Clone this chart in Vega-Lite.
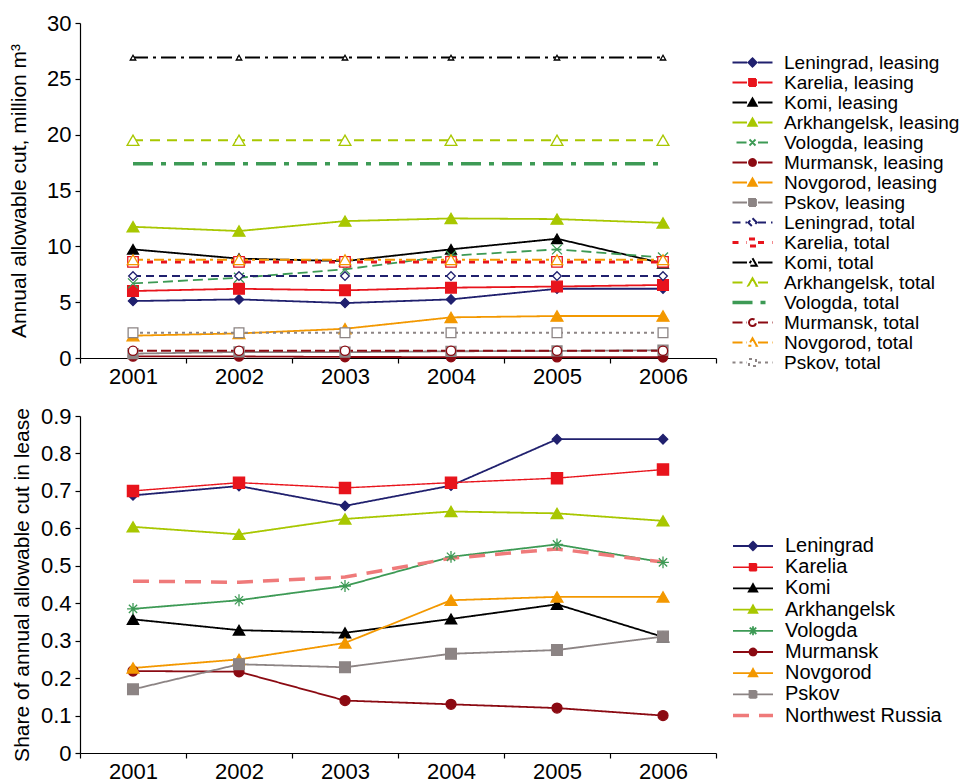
{
  "$schema": "https://vega.github.io/schema/vega-lite/v6.json",
  "padding": {"left": 8, "top": 12, "right": 0, "bottom": 0},
  "spacing": 18,
  "datasets": {
    "cut": [
      {"series": "Leningrad, leasing", "year": "2001", "value": 5.1},
      {"series": "Leningrad, leasing", "year": "2002", "value": 5.25},
      {"series": "Leningrad, leasing", "year": "2003", "value": 4.92},
      {"series": "Leningrad, leasing", "year": "2004", "value": 5.25},
      {"series": "Leningrad, leasing", "year": "2005", "value": 6.2},
      {"series": "Leningrad, leasing", "year": "2006", "value": 6.2},
      {"series": "Karelia, leasing", "year": "2001", "value": 6.0},
      {"series": "Karelia, leasing", "year": "2002", "value": 6.2},
      {"series": "Karelia, leasing", "year": "2003", "value": 6.06},
      {"series": "Karelia, leasing", "year": "2004", "value": 6.3},
      {"series": "Karelia, leasing", "year": "2005", "value": 6.4},
      {"series": "Karelia, leasing", "year": "2006", "value": 6.54},
      {"series": "Komi, leasing", "year": "2001", "value": 9.73},
      {"series": "Komi, leasing", "year": "2002", "value": 8.9},
      {"series": "Komi, leasing", "year": "2003", "value": 8.68},
      {"series": "Komi, leasing", "year": "2004", "value": 9.73},
      {"series": "Komi, leasing", "year": "2005", "value": 10.68},
      {"series": "Komi, leasing", "year": "2006", "value": 8.48},
      {"series": "Arkhangelsk, leasing", "year": "2001", "value": 11.75},
      {"series": "Arkhangelsk, leasing", "year": "2002", "value": 11.37},
      {"series": "Arkhangelsk, leasing", "year": "2003", "value": 12.26},
      {"series": "Arkhangelsk, leasing", "year": "2004", "value": 12.5},
      {"series": "Arkhangelsk, leasing", "year": "2005", "value": 12.44},
      {"series": "Arkhangelsk, leasing", "year": "2006", "value": 12.1},
      {"series": "Vologda, leasing", "year": "2001", "value": 6.68},
      {"series": "Vologda, leasing", "year": "2002", "value": 7.19},
      {"series": "Vologda, leasing", "year": "2003", "value": 7.94},
      {"series": "Vologda, leasing", "year": "2004", "value": 9.16},
      {"series": "Vologda, leasing", "year": "2005", "value": 9.73},
      {"series": "Vologda, leasing", "year": "2006", "value": 9.0},
      {"series": "Murmansk, leasing", "year": "2001", "value": 0.14},
      {"series": "Murmansk, leasing", "year": "2002", "value": 0.14},
      {"series": "Murmansk, leasing", "year": "2003", "value": 0.09},
      {"series": "Murmansk, leasing", "year": "2004", "value": 0.085},
      {"series": "Murmansk, leasing", "year": "2005", "value": 0.08},
      {"series": "Murmansk, leasing", "year": "2006", "value": 0.065},
      {"series": "Novgorod, leasing", "year": "2001", "value": 2.0},
      {"series": "Novgorod, leasing", "year": "2002", "value": 2.2},
      {"series": "Novgorod, leasing", "year": "2003", "value": 2.62},
      {"series": "Novgorod, leasing", "year": "2004", "value": 3.64},
      {"series": "Novgorod, leasing", "year": "2005", "value": 3.76},
      {"series": "Novgorod, leasing", "year": "2006", "value": 3.76},
      {"series": "Pskov, leasing", "year": "2001", "value": 0.39},
      {"series": "Pskov, leasing", "year": "2002", "value": 0.54},
      {"series": "Pskov, leasing", "year": "2003", "value": 0.52},
      {"series": "Pskov, leasing", "year": "2004", "value": 0.6},
      {"series": "Pskov, leasing", "year": "2005", "value": 0.63},
      {"series": "Pskov, leasing", "year": "2006", "value": 0.7},
      {"series": "Leningrad, total", "year": "2001", "value": 7.34},
      {"series": "Leningrad, total", "year": "2002", "value": 7.34},
      {"series": "Leningrad, total", "year": "2003", "value": 7.34},
      {"series": "Leningrad, total", "year": "2004", "value": 7.34},
      {"series": "Leningrad, total", "year": "2005", "value": 7.34},
      {"series": "Leningrad, total", "year": "2006", "value": 7.34},
      {"series": "Karelia, total", "year": "2001", "value": 8.6},
      {"series": "Karelia, total", "year": "2002", "value": 8.6},
      {"series": "Karelia, total", "year": "2003", "value": 8.6},
      {"series": "Karelia, total", "year": "2004", "value": 8.6},
      {"series": "Karelia, total", "year": "2005", "value": 8.6},
      {"series": "Karelia, total", "year": "2006", "value": 8.6},
      {"series": "Komi, total", "year": "2001", "value": 26.9},
      {"series": "Komi, total", "year": "2002", "value": 26.9},
      {"series": "Komi, total", "year": "2003", "value": 26.9},
      {"series": "Komi, total", "year": "2004", "value": 26.9},
      {"series": "Komi, total", "year": "2005", "value": 26.9},
      {"series": "Komi, total", "year": "2006", "value": 26.9},
      {"series": "Arkhangelsk, total", "year": "2001", "value": 19.5},
      {"series": "Arkhangelsk, total", "year": "2002", "value": 19.5},
      {"series": "Arkhangelsk, total", "year": "2003", "value": 19.5},
      {"series": "Arkhangelsk, total", "year": "2004", "value": 19.5},
      {"series": "Arkhangelsk, total", "year": "2005", "value": 19.5},
      {"series": "Arkhangelsk, total", "year": "2006", "value": 19.5},
      {"series": "Vologda, total", "year": "2001", "value": 17.4},
      {"series": "Vologda, total", "year": "2002", "value": 17.4},
      {"series": "Vologda, total", "year": "2003", "value": 17.4},
      {"series": "Vologda, total", "year": "2004", "value": 17.4},
      {"series": "Vologda, total", "year": "2005", "value": 17.4},
      {"series": "Vologda, total", "year": "2006", "value": 17.4},
      {"series": "Murmansk, total", "year": "2001", "value": 0.65},
      {"series": "Murmansk, total", "year": "2002", "value": 0.65},
      {"series": "Murmansk, total", "year": "2003", "value": 0.65},
      {"series": "Murmansk, total", "year": "2004", "value": 0.65},
      {"series": "Murmansk, total", "year": "2005", "value": 0.65},
      {"series": "Murmansk, total", "year": "2006", "value": 0.65},
      {"series": "Novgorod, total", "year": "2001", "value": 8.8},
      {"series": "Novgorod, total", "year": "2002", "value": 8.8},
      {"series": "Novgorod, total", "year": "2003", "value": 8.8},
      {"series": "Novgorod, total", "year": "2004", "value": 8.8},
      {"series": "Novgorod, total", "year": "2005", "value": 8.8},
      {"series": "Novgorod, total", "year": "2006", "value": 8.8},
      {"series": "Pskov, total", "year": "2001", "value": 2.27},
      {"series": "Pskov, total", "year": "2002", "value": 2.27},
      {"series": "Pskov, total", "year": "2003", "value": 2.27},
      {"series": "Pskov, total", "year": "2004", "value": 2.27},
      {"series": "Pskov, total", "year": "2005", "value": 2.27},
      {"series": "Pskov, total", "year": "2006", "value": 2.27}
    ],
    "share": [
      {"region": "Leningrad", "year": "2001", "value": 0.688},
      {"region": "Leningrad", "year": "2002", "value": 0.713},
      {"region": "Leningrad", "year": "2003", "value": 0.66},
      {"region": "Leningrad", "year": "2004", "value": 0.714},
      {"region": "Leningrad", "year": "2005", "value": 0.838},
      {"region": "Leningrad", "year": "2006", "value": 0.838},
      {"region": "Karelia", "year": "2001", "value": 0.7},
      {"region": "Karelia", "year": "2002", "value": 0.722},
      {"region": "Karelia", "year": "2003", "value": 0.708},
      {"region": "Karelia", "year": "2004", "value": 0.722},
      {"region": "Karelia", "year": "2005", "value": 0.734},
      {"region": "Karelia", "year": "2006", "value": 0.757},
      {"region": "Komi", "year": "2001", "value": 0.357},
      {"region": "Komi", "year": "2002", "value": 0.328},
      {"region": "Komi", "year": "2003", "value": 0.321},
      {"region": "Komi", "year": "2004", "value": 0.358},
      {"region": "Komi", "year": "2005", "value": 0.397},
      {"region": "Komi", "year": "2006", "value": 0.31},
      {"region": "Arkhangelsk", "year": "2001", "value": 0.604},
      {"region": "Arkhangelsk", "year": "2002", "value": 0.584},
      {"region": "Arkhangelsk", "year": "2003", "value": 0.625},
      {"region": "Arkhangelsk", "year": "2004", "value": 0.645},
      {"region": "Arkhangelsk", "year": "2005", "value": 0.64},
      {"region": "Arkhangelsk", "year": "2006", "value": 0.62},
      {"region": "Vologda", "year": "2001", "value": 0.385},
      {"region": "Vologda", "year": "2002", "value": 0.408},
      {"region": "Vologda", "year": "2003", "value": 0.446},
      {"region": "Vologda", "year": "2004", "value": 0.524},
      {"region": "Vologda", "year": "2005", "value": 0.557},
      {"region": "Vologda", "year": "2006", "value": 0.509},
      {"region": "Murmansk", "year": "2001", "value": 0.219},
      {"region": "Murmansk", "year": "2002", "value": 0.217},
      {"region": "Murmansk", "year": "2003", "value": 0.14},
      {"region": "Murmansk", "year": "2004", "value": 0.13},
      {"region": "Murmansk", "year": "2005", "value": 0.12},
      {"region": "Murmansk", "year": "2006", "value": 0.1},
      {"region": "Novgorod", "year": "2001", "value": 0.227},
      {"region": "Novgorod", "year": "2002", "value": 0.25},
      {"region": "Novgorod", "year": "2003", "value": 0.294},
      {"region": "Novgorod", "year": "2004", "value": 0.408},
      {"region": "Novgorod", "year": "2005", "value": 0.417},
      {"region": "Novgorod", "year": "2006", "value": 0.417},
      {"region": "Pskov", "year": "2001", "value": 0.17},
      {"region": "Pskov", "year": "2002", "value": 0.237},
      {"region": "Pskov", "year": "2003", "value": 0.229},
      {"region": "Pskov", "year": "2004", "value": 0.265},
      {"region": "Pskov", "year": "2005", "value": 0.275},
      {"region": "Pskov", "year": "2006", "value": 0.311},
      {"region": "Northwest Russia", "year": "2001", "value": 0.459},
      {"region": "Northwest Russia", "year": "2002", "value": 0.456},
      {"region": "Northwest Russia", "year": "2003", "value": 0.47},
      {"region": "Northwest Russia", "year": "2004", "value": 0.52},
      {"region": "Northwest Russia", "year": "2005", "value": 0.545},
      {"region": "Northwest Russia", "year": "2006", "value": 0.51}
    ]
  },
  "vconcat": [
    {
      "width": 636,
      "height": 335,
      "data": {"name": "cut"},
      "encoding": {
        "x": {"field": "year", "type": "ordinal", "scale": {"type": "band", "paddingInner": 0, "paddingOuter": 0},
              "axis": {"title": null, "labelAngle": 0, "tickBand": "extent", "labelPadding": 3}},
        "y": {"field": "value", "type": "quantitative", "scale": {"domain": [0, 30], "nice": false},
              "axis": {"title": "Annual allowable cut, million m³", "values": [0, 5, 10, 15, 20, 25, 30], "titlePadding": 17, "labelPadding": 4}}
      },
      "layer": [
        {
          "mark": {"type": "line", "strokeCap": "butt"},
          "encoding": {
            "color": {
              "field": "series", "type": "nominal",
              "scale": {
                "domain": ["Leningrad, leasing","Karelia, leasing","Komi, leasing","Arkhangelsk, leasing","Vologda, leasing","Murmansk, leasing","Novgorod, leasing","Pskov, leasing","Leningrad, total","Karelia, total","Komi, total","Arkhangelsk, total","Vologda, total","Murmansk, total","Novgorod, total","Pskov, total"],
                "range": ["#20206e","#e8141c","#000000","#a8c700","#3d9a55","#8b0a12","#f39800","#8c8484","#20206e","#e8141c","#000000","#a8c700","#3d9a55","#8b0a12","#f39800","#8c8484"]
              },
              "legend": {
                "title": null, "orient": "none", "legendX": 663, "legendY": 30,
                "labelFontSize": 19, "labelColor": "#000", "labelLimit": 400,
                "symbolSize": 100, "symbolStrokeWidth": 2, "labelOffset": 22, "rowPadding": -0.6,
                "encode": {"symbols": {"update": {
                  "shape": {"signal": "['M-4,0H-1.1M1.1,0H4M0,-0.85L0.85,0L0,0.85L-0.85,0Z','M-4,0H-1.1M1.1,0H4M-0.7,-0.7H0.7V0.7H-0.7Z','M-4,0H-1.1M1.1,0H4M0,-0.85L0.85,0.65H-0.85Z','M-4,0H-1.1M1.1,0H4M0,-0.85L0.85,0.65H-0.85Z','M-3.2,0H-1.1M1.1,0H3.2M-0.6,-0.6L0.6,0.6M-0.6,0.6L0.6,-0.6','M-4,0H-1.1M1.1,0H4M-0.7,0A0.7,0.7,0,1,0,0.7,0A0.7,0.7,0,1,0,-0.7,0Z','M-4,0H-1.1M1.1,0H4M0,-0.85L0.85,0.65H-0.85Z','M-4,0H-1.1M1.1,0H4M-0.7,-0.7H0.7V0.7H-0.7Z','M-4,0H-1.1M1.1,0H4M0,-0.85L0.85,0L0,0.85L-0.85,0Z','M-4,0H-1.1M1.1,0H4M-0.7,-0.7H0.7V0.7H-0.7Z','M-4,0H-1.1M1.1,0H4M0,-0.85L0.85,0.65H-0.85Z','M-4,0H-1.1M1.1,0H4M0,-0.85L0.85,0.65H-0.85Z','M-4,0H4','M-4,0H-1.1M1.1,0H4M-0.7,0A0.7,0.7,0,1,0,0.7,0A0.7,0.7,0,1,0,-0.7,0Z','M-4,0H-1.1M1.1,0H4M0,-0.85L0.85,0.65H-0.85Z','M-4,0H-1.1M1.1,0H4M-0.7,-0.7H0.7V0.7H-0.7Z'][indexof(['Leningrad, leasing','Karelia, leasing','Komi, leasing','Arkhangelsk, leasing','Vologda, leasing','Murmansk, leasing','Novgorod, leasing','Pskov, leasing','Leningrad, total','Karelia, total','Komi, total','Arkhangelsk, total','Vologda, total','Murmansk, total','Novgorod, total','Pskov, total'], datum.value)]"},
                  "fill": {"signal": "['#20206e','#e8141c','#000000','#a8c700','transparent','#8b0a12','#f39800','#8c8484','white','white','white','white','transparent','white','white','white'][indexof(['Leningrad, leasing','Karelia, leasing','Komi, leasing','Arkhangelsk, leasing','Vologda, leasing','Murmansk, leasing','Novgorod, leasing','Pskov, leasing','Leningrad, total','Karelia, total','Komi, total','Arkhangelsk, total','Vologda, total','Murmansk, total','Novgorod, total','Pskov, total'], datum.value)]"}
                }}}
              }
            },
            "strokeDash": {
              "field": "series", "type": "nominal",
              "scale": {
                "domain": ["Leningrad, leasing","Karelia, leasing","Komi, leasing","Arkhangelsk, leasing","Vologda, leasing","Murmansk, leasing","Novgorod, leasing","Pskov, leasing","Leningrad, total","Karelia, total","Komi, total","Arkhangelsk, total","Vologda, total","Murmansk, total","Novgorod, total","Pskov, total"],
                "range": [[1,0],[1,0],[1,0],[1,0],[10,5],[1,0],[1,0],[1,0],[8,5],[6,8],[15,5,3,5],[10,7],[20,8,5,8],[10,4],[10,4,3,4],[3,4]]
              },
              "legend": {"title": null, "orient": "none", "legendX": 663, "legendY": 30}
            },
            "strokeWidth": {
              "field": "series", "type": "nominal", "legend": null,
              "scale": {
                "type": "ordinal",
                "domain": ["Leningrad, leasing","Karelia, leasing","Komi, leasing","Arkhangelsk, leasing","Vologda, leasing","Murmansk, leasing","Novgorod, leasing","Pskov, leasing","Leningrad, total","Karelia, total","Komi, total","Arkhangelsk, total","Vologda, total","Murmansk, total","Novgorod, total","Pskov, total"],
                "range": [1.8,1.8,1.8,1.8,1.8,1.8,1.8,1.8,2,3,2,2,3.5,2,2,2]
              }
            }
          }
        },
        {
          "transform": [{"filter": "datum.series != 'Vologda, total'"}],
          "mark": {"type": "point", "opacity": 1, "strokeWidth": 1.3},
          "encoding": {
            "shape": {
              "field": "series", "type": "nominal", "legend": null,
              "scale": {
                "domain": ["Leningrad, leasing","Karelia, leasing","Komi, leasing","Arkhangelsk, leasing","Vologda, leasing","Murmansk, leasing","Novgorod, leasing","Pskov, leasing","Leningrad, total","Karelia, total","Komi, total","Arkhangelsk, total","Murmansk, total","Novgorod, total","Pskov, total"],
                "range": ["diamond","square","triangle-up","triangle-up","M-1,-1L1,1M-1,1L1,-1","circle","triangle-up","square","diamond","square","triangle-up","triangle-up","circle","triangle-up","square"]
              }
            },
            "fill": {
              "field": "series", "type": "nominal", "legend": null,
              "scale": {
                "domain": ["Leningrad, leasing","Karelia, leasing","Komi, leasing","Arkhangelsk, leasing","Vologda, leasing","Murmansk, leasing","Novgorod, leasing","Pskov, leasing","Leningrad, total","Karelia, total","Komi, total","Arkhangelsk, total","Murmansk, total","Novgorod, total","Pskov, total"],
                "range": ["#20206e","#e8141c","#000000","#a8c700","#3d9a55","#8b0a12","#f39800","#8c8484","#ffffff","#ffffff","#ffffff","#ffffff","#ffffff","#ffffff","#ffffff"]
              }
            },
            "stroke": {
              "field": "series", "type": "nominal", "legend": null,
              "scale": {
                "domain": ["Leningrad, leasing","Karelia, leasing","Komi, leasing","Arkhangelsk, leasing","Vologda, leasing","Murmansk, leasing","Novgorod, leasing","Pskov, leasing","Leningrad, total","Karelia, total","Komi, total","Arkhangelsk, total","Murmansk, total","Novgorod, total","Pskov, total"],
                "range": ["#20206e","#e8141c","#000000","#a8c700","#3d9a55","#8b0a12","#f39800","#8c8484","#20206e","#e8141c","#000000","#a8c700","#8b0a12","#f39800","#8c8484"]
              }
            },
            "size": {
              "field": "series", "type": "nominal", "legend": null,
              "scale": {
                "type": "ordinal",
                "domain": ["Leningrad, leasing","Karelia, leasing","Komi, leasing","Arkhangelsk, leasing","Vologda, leasing","Murmansk, leasing","Novgorod, leasing","Pskov, leasing","Leningrad, total","Karelia, total","Komi, total","Arkhangelsk, total","Murmansk, total","Novgorod, total","Pskov, total"],
                "range": [85,115,120,140,100,90,140,100,75,110,30,140,85,130,95]
              }
            }
          }
        }
      ]
    },
    {
      "width": 636,
      "height": 337,
      "data": {"name": "share"},
      "encoding": {
        "x": {"field": "year", "type": "ordinal", "scale": {"type": "band", "paddingInner": 0, "paddingOuter": 0},
              "axis": {"title": null, "labelAngle": 0, "tickBand": "extent", "labelPadding": 3}},
        "y": {"field": "value", "type": "quantitative", "scale": {"domain": [0, 0.9], "nice": false},
              "axis": {"title": "Share of annual allowable cut in lease", "values": [0, 0.1, 0.2, 0.3, 0.4, 0.5, 0.6, 0.7, 0.8, 0.9], "format": ".1~f", "titlePadding": 8, "labelPadding": 4}}
      },
      "layer": [
        {
          "mark": {"type": "line", "strokeCap": "butt"},
          "encoding": {
            "color": {
              "field": "region", "type": "nominal",
              "scale": {
                "domain": ["Leningrad","Karelia","Komi","Arkhangelsk","Vologda","Murmansk","Novgorod","Pskov","Northwest Russia"],
                "range": ["#20206e","#e8141c","#000000","#a8c700","#3d9a55","#8b0a12","#f39800","#8c8484","#ef7a7a"]
              },
              "legend": {
                "title": null, "orient": "none", "legendX": 663, "legendY": 120,
                "labelFontSize": 20, "labelColor": "#000", "labelLimit": 400,
                "symbolSize": 100, "symbolStrokeWidth": 2, "labelOffset": 22, "rowPadding": 1.2,
                "encode": {"symbols": {"update": {
                  "shape": {"signal": "['M-4,0H4M0,-0.85L0.85,0L0,0.85L-0.85,0Z','M-4,0H4M-0.7,-0.7H0.7V0.7H-0.7Z','M-4,0H4M0,-0.85L0.85,0.65H-0.85Z','M-4,0H4M0,-0.85L0.85,0.65H-0.85Z','M-4,0H4M-0.9,0H0.9M0,-0.9V0.9M-0.65,-0.65L0.65,0.65M-0.65,0.65L0.65,-0.65','M-4,0H4M-0.7,0A0.7,0.7,0,1,0,0.7,0A0.7,0.7,0,1,0,-0.7,0Z','M-4,0H4M0,-0.85L0.85,0.65H-0.85Z','M-4,0H4M-0.7,-0.7H0.7V0.7H-0.7Z','M-4,0H4'][indexof(['Leningrad','Karelia','Komi','Arkhangelsk','Vologda','Murmansk','Novgorod','Pskov','Northwest Russia'], datum.value)]"},
                  "fill": {"signal": "['#20206e','#e8141c','#000000','#a8c700','transparent','#8b0a12','#f39800','#8c8484','transparent'][indexof(['Leningrad','Karelia','Komi','Arkhangelsk','Vologda','Murmansk','Novgorod','Pskov','Northwest Russia'], datum.value)]"}
                }}}
              }
            },
            "strokeDash": {
              "field": "region", "type": "nominal",
              "scale": {
                "domain": ["Leningrad","Karelia","Komi","Arkhangelsk","Vologda","Murmansk","Novgorod","Pskov","Northwest Russia"],
                "range": [[1,0],[1,0],[1,0],[1,0],[1,0],[1,0],[1,0],[1,0],[16,10]]
              },
              "legend": {"title": null, "orient": "none", "legendX": 663, "legendY": 120}
            },
            "strokeWidth": {
              "field": "region", "type": "nominal", "legend": null,
              "scale": {
                "type": "ordinal",
                "domain": ["Leningrad","Karelia","Komi","Arkhangelsk","Vologda","Murmansk","Novgorod","Pskov","Northwest Russia"],
                "range": [1.8,1.4,1.8,1.8,1.8,1.8,1.8,1.8,3.5]
              }
            }
          }
        },
        {
          "transform": [{"filter": "datum.region != 'Northwest Russia'"}],
          "mark": {"type": "point", "opacity": 1, "strokeWidth": 1.3},
          "encoding": {
            "shape": {
              "field": "region", "type": "nominal", "legend": null,
              "scale": {
                "domain": ["Leningrad","Karelia","Komi","Arkhangelsk","Vologda","Murmansk","Novgorod","Pskov"],
                "range": ["diamond","square","triangle-up","triangle-up","M-1,0H1M0,-1V1M-0.7,-0.7L0.7,0.7M-0.7,0.7L0.7,-0.7","circle","triangle-up","square"]
              }
            },
            "fill": {
              "field": "region", "type": "nominal", "legend": null,
              "scale": {
                "domain": ["Leningrad","Karelia","Komi","Arkhangelsk","Vologda","Murmansk","Novgorod","Pskov"],
                "range": ["#20206e","#e8141c","#000000","#a8c700","#3d9a55","#8b0a12","#f39800","#8c8484"]
              }
            },
            "stroke": {
              "field": "region", "type": "nominal", "legend": null,
              "scale": {
                "domain": ["Leningrad","Karelia","Komi","Arkhangelsk","Vologda","Murmansk","Novgorod","Pskov"],
                "range": ["#20206e","#e8141c","#000000","#a8c700","#3d9a55","#8b0a12","#f39800","#8c8484"]
              }
            },
            "size": {
              "field": "region", "type": "nominal", "legend": null,
              "scale": {
                "type": "ordinal",
                "domain": ["Leningrad","Karelia","Komi","Arkhangelsk","Vologda","Murmansk","Novgorod","Pskov"],
                "range": [90,125,130,140,140,100,140,115]
              }
            }
          }
        }
      ]
    }
  ],
  "resolve": {
    "scale": {"x": "independent", "y": "independent", "color": "independent", "strokeDash": "independent", "strokeWidth": "independent", "shape": "independent", "fill": "independent", "stroke": "independent", "size": "independent"},
    "legend": {"color": "independent", "strokeDash": "independent"}
  },
  "config": {
    "view": {"stroke": null},
    "font": "Liberation Sans",
    "axis": {
      "domainColor": "#000", "tickColor": "#000", "labelColor": "#000", "titleColor": "#000",
      "labelFontSize": 22, "titleFontSize": 21, "titleFontWeight": "normal", "grid": false,
      "tickSize": 5, "domainWidth": 1.2, "tickWidth": 1.2, "labelFont": "Liberation Sans", "titleFont": "Liberation Sans"
    },
    "legend": {"labelFont": "Liberation Sans", "padding": 0}
  }
}
